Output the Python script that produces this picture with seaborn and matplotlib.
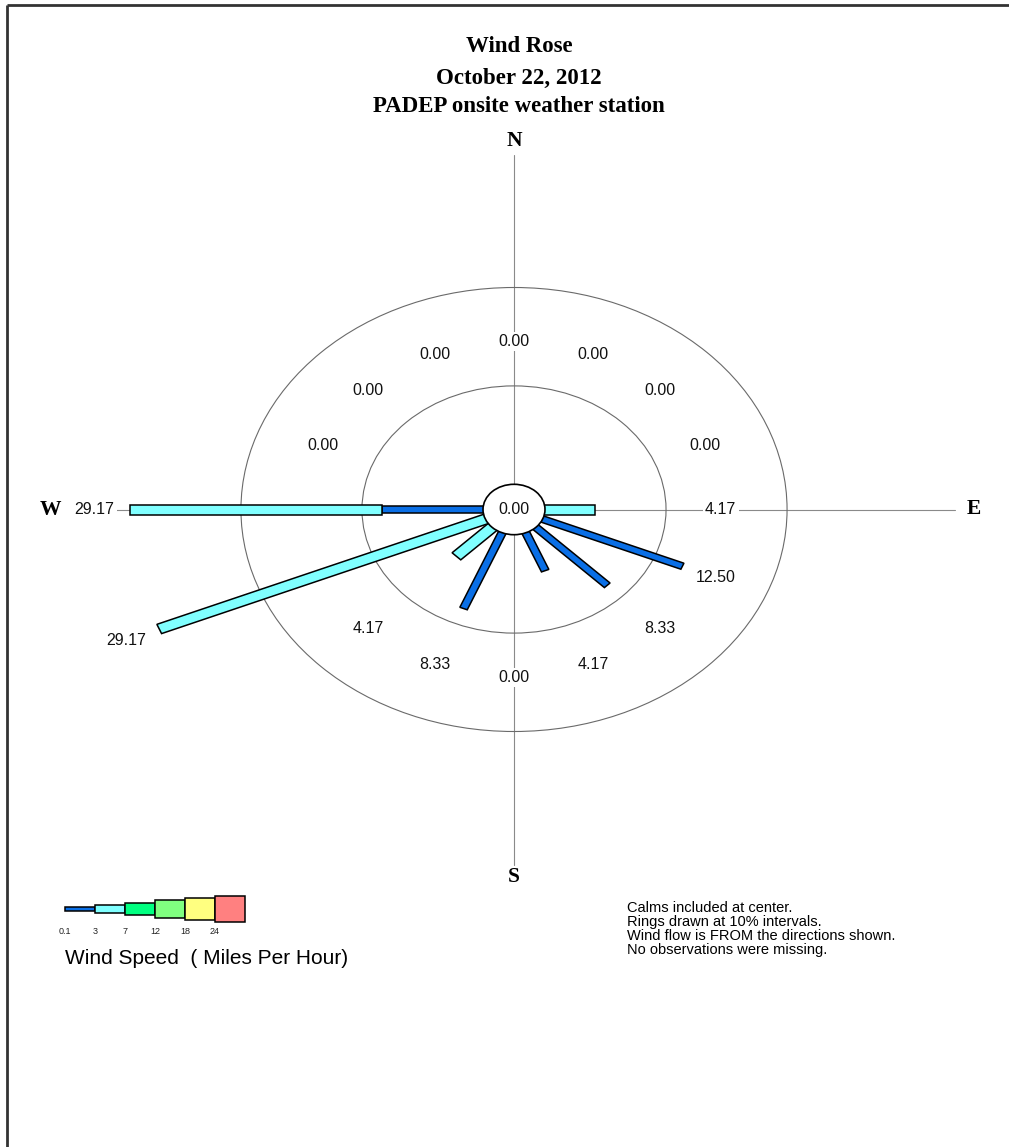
import numpy as np
import pandas as pd
import seaborn as sns
import matplotlib
matplotlib.use("Agg")
import matplotlib.pyplot as plt
from matplotlib.patches import Polygon, Circle, Rectangle

# ---- data: hourly observations on the day, by direction and speed class ----
directions = ["N", "NNE", "NE", "ENE", "E", "ESE", "SE", "SSE",
              "S", "SSW", "SW", "WSW", "W", "WNW", "NW", "NNW"]
speed_bins = ["0.1-3", "3-7", "7-12", "12-18", "18-24", "24+"]
speed_edges = ["0.1", "3", "7", "12", "18", "24"]
hours_0_3 = [0, 0, 0, 0, 0, 3, 2, 1, 0, 2, 0, 0, 2, 0, 0, 0]
hours_3_7 = [0, 0, 0, 0, 1, 0, 0, 0, 0, 0, 1, 7, 5, 0, 0, 0]
calm_hours = 0
total_hours = 24

speed_colors = ["#0A6FE6", "#80FFFF", "#00FF80", "#80FF80", "#FFFF80", "#FF8080"]
cardinals = ["N", "E", "S", "W"]

# ---- tidy table of percentage frequencies ----
counts = pd.DataFrame({"direction": directions,
                       "0.1-3": hours_0_3, "3-7": hours_3_7})
for b in speed_bins:
    if b not in counts:
        counts[b] = 0
pct = counts.set_index("direction")[speed_bins] / total_hours * 100.0
calm_pct = calm_hours / total_hours * 100.0

sns.set_theme(style="white")
plt.rcParams["font.family"] = ["Liberation Sans", "DejaVu Sans"]
palette = sns.color_palette(speed_colors)
SERIF = ["Liberation Serif", "DejaVu Serif"]

W, H = 1009, 1147
fig = plt.figure(figsize=(W / 100, H / 100), dpi=100)
fig.patch.set_facecolor("white")

# rose axes: screen is stretched horizontally relative to the rose units
XSTRETCH = 1.23
CX, CY = 514, 509.5
ax = fig.add_axes([0, 0, 1, 1])
ax.set_xlim(-CX / XSTRETCH, (W - CX) / XSTRETCH)
ax.set_ylim(CY - H, CY)
ax.axis("off")

R0, K = 25.2, 9.84          # calm radius and units per percent


def radius(p):
    return R0 + K * p


# compass axes and rings
AX_LEN = 355
ax.plot([0, 0], [-AX_LEN, AX_LEN], color="#8a8a8a", lw=0.8, zorder=1)
ax.plot([-AX_LEN * 1.01, AX_LEN * 1.01], [0, 0], color="#8a8a8a", lw=0.8, zorder=1)
for ring in (10, 20):
    ax.add_patch(Circle((0, 0), radius(ring), fill=False,
                        edgecolor="#6a6a6a", lw=0.8, zorder=1))

bar_widths = [6.5, 10, 13, 16, 19, 22]
angles = np.deg2rad(np.arange(len(directions)) * 22.5)

for d, th in zip(directions, angles):
    u = np.array([np.sin(th), np.cos(th)])
    n = np.array([np.cos(th), -np.sin(th)])
    cum = 0.0
    for b, col, w in zip(speed_bins, palette, bar_widths):
        p = pct.loc[d, b]
        if p <= 0:
            continue
        r1 = 0.0 if cum == 0 else radius(cum)
        r2 = radius(cum + p)
        pts = [u * r1 + n * w / 2, u * r2 + n * w / 2,
               u * r2 - n * w / 2, u * r1 - n * w / 2]
        ax.add_patch(Polygon(pts, closed=True, facecolor=col,
                             edgecolor="black", lw=1.1, zorder=3))
        cum += p

    total = pct.loc[d].sum()
    r_lab = max(168, radius(total) + 29) if total > 0 else 168
    ax.text(u[0] * r_lab, u[1] * r_lab, f"{total:.2f}", ha="center", va="center",
            fontsize=11.5, color="#111111", zorder=4,
            bbox=dict(boxstyle="square,pad=0.15", fc="white", ec="none"))

# calm circle
ax.add_patch(Circle((0, 0), R0, facecolor="white", edgecolor="black", lw=1.2, zorder=5))
ax.text(0, 0, f"{calm_pct:.2f}", ha="center", va="center", fontsize=11.5,
        color="#111111", zorder=6)

# cardinal letters
R_CARD = 368
for c in cardinals:
    th = angles[directions.index(c)]
    ha = {"E": "left", "W": "right"}.get(c, "center")
    ax.text(np.sin(th) * R_CARD, np.cos(th) * R_CARD, c, ha=ha, va="center",
            fontsize=15.5, fontweight="bold", family=SERIF, color="black", zorder=4)

# ---- page layer in pixel units ----
pg = fig.add_axes([0, 0, 1, 1], facecolor="none")
pg.set_xlim(0, W)
pg.set_ylim(H, 0)
pg.axis("off")

# page frame
pg.plot([7, W], [5, 5], color="#333333", lw=2, solid_capstyle="butt")
pg.plot([7, 7], [5, H], color="#333333", lw=2, solid_capstyle="butt")

title_lines = ["Wind Rose", "October 22, 2012", "PADEP onsite weather station"]
for line, y in zip(title_lines, [47, 78, 107]):
    pg.text(519, y, line, ha="center", va="center", fontsize=16.5, fontweight="bold",
            family=SERIF, color="black")

# speed legend
for i, (col, lab) in enumerate(zip(palette, speed_edges)):
    h = 4 + 4.4 * i
    pg.add_patch(Rectangle((65 + 30 * i, 909 - h / 2), 30, h, facecolor=col,
                           edgecolor="black", lw=1.1))
    pg.text(65 + 30 * i, 932, lab, ha="center", va="center", fontsize=6.5,
            color="#222222")
pg.text(65, 958, "Wind Speed  ( Miles Per Hour)", ha="left", va="center",
        fontsize=15, color="black")

notes = ["Calms included at center.",
         "Rings drawn at 10% intervals.",
         "Wind flow is FROM the directions shown.",
         "No observations were missing."]
for k, line in enumerate(notes):
    pg.text(627, 908 + 14 * k, line, ha="left", va="center", fontsize=10.5,
            color="black")

fig.savefig("out.png", dpi=100, facecolor="white")
